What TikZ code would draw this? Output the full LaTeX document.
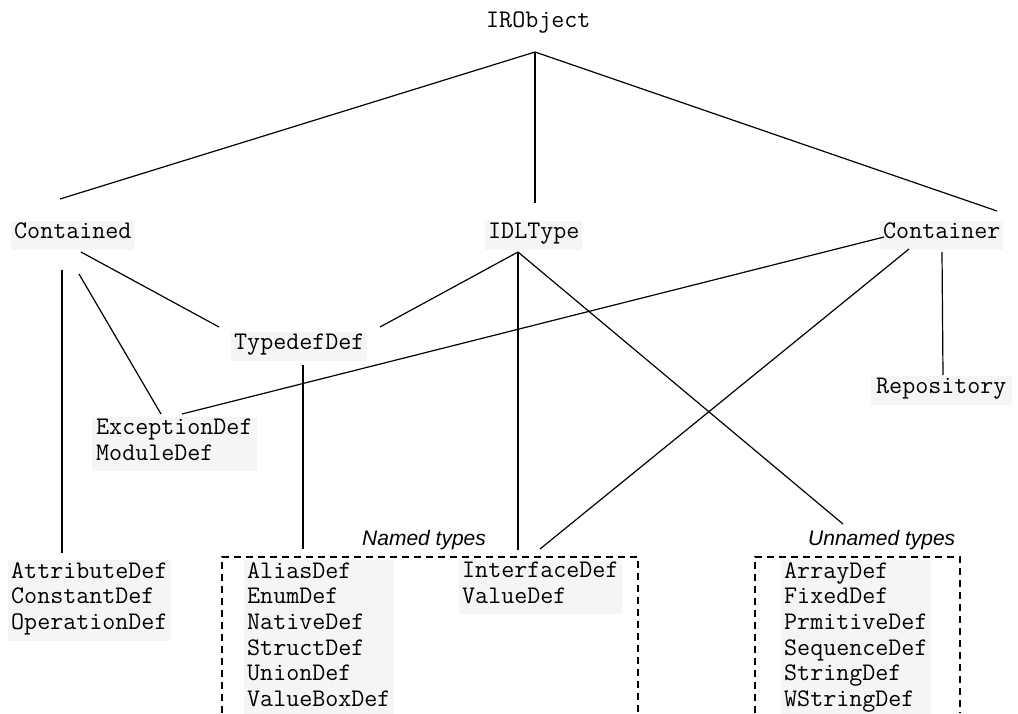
\documentclass[tikz,border=0pt]{standalone}
\usepackage{fontspec}
\setmainfont{Liberation Serif}
\setsansfont{Liberation Sans}
\definecolor{bgc}{HTML}{F5F5F5}
\newcommand\clsfont{\ttfamily\fontsize{25.3}{23}\selectfont}
\newcommand\grpfont{\sffamily\itshape\fontsize{21}{25}\selectfont}
\newcommand\ms{\rule[-9pt]{0pt}{23pt}}
\begin{document}
\begin{tikzpicture}[x=1pt,y=-1pt,
  cls/.style={fill=bgc, inner xsep=3pt, inner ysep=2pt, anchor=north west, align=left, font=\clsfont},
  plain/.style={cls, fill=none},
  lbl/.style={font=\grpfont, anchor=base west, inner sep=0pt},
  thinln/.style={line width=1.2pt},
  thickln/.style={line width=2.2pt},
  grp/.style={line width=1.8pt, dash pattern=on 7pt off 5pt}
]
\useasboundingbox (0,0) rectangle (1018,713);

% nodes
\node[plain] (iro) at (483,10) {\ms IRObject};
\node[cls] (contained) at (11,221) {\ms Contained};
\node[cls] (idl) at (485,221) {\ms IDLType};
\node[cls] (container) at (880,221) {\ms Container};
\node[cls] (typedef) at (231,332) {\ms TypedefDef};
\node[cls, inner xsep=5pt] (repo) at (871,376) {\ms Repository};
\node[cls, inner xsep=4pt] (exc) at (92,417) {\ms ExceptionDef\\\ms ModuleDef};
\node[cls] (attr) at (8,560) {\ms AttributeDef\\\ms ConstantDef\\\ms OperationDef};
\node[cls] (alias) at (244,560) {\ms AliasDef\\\ms EnumDef\\\ms NativeDef\\\ms StructDef\\\ms UnionDef\\\ms ValueBoxDef};
\node[cls] (iface) at (459,560) {\ms InterfaceDef\\\ms ValueDef};
\node[cls] (array) at (781,560) {\ms ArrayDef\\\ms FixedDef\\\ms PrmitiveDef\\\ms SequenceDef\\\ms StringDef\\\ms WStringDef};

\node[lbl] (named) at (362,545) {Named types};
\node[lbl] (unnamed) at (808,545) {Unnamed types};

% group frames
\draw[grp] (222,713) -- (222,557) -- (638,557) -- (638,713);
\draw[grp] (755,713) -- (755,557) -- (960,557) -- (960,713);

% connection points
\coordinate (apex) at (535,52);
\coordinate (contTop) at (60,199);
\coordinate (idlTop) at (535,203);
\coordinate (contrTop) at (997,211);
\coordinate (contA) at (81,252);
\coordinate (tdL) at (219,327);
\coordinate (contB) at (79,274);
\coordinate (exA) at (161,414);
\coordinate (idlBot) at (518,252);
\coordinate (tdR) at (380,327);
\coordinate (idlDown) at (518,550);
\coordinate (unnTop) at (843,524);
\coordinate (contrA) at (884,237);
\coordinate (exB) at (182,414);
\coordinate (contrB) at (909,249);
\coordinate (ifTop) at (540,549);
\coordinate (contrC) at (942,252);
\coordinate (repTop) at (943,375);
\coordinate (contV1) at (62,270);
\coordinate (attrTop) at (62,553);
\coordinate (tdV1) at (303,365);
\coordinate (aliasTop) at (303,549);

% connectors
\draw[thinln] (apex) -- (contTop);
\draw[thickln] (apex) -- (idlTop);
\draw[thinln] (apex) -- (contrTop);
\draw[thinln] (contA) -- (tdL);
\draw[thinln] (contB) -- (exA);
\draw[thickln] (contV1) -- (attrTop);
\draw[thinln] (idlBot) -- (tdR);
\draw[thickln] (idlBot) -- (idlDown);
\draw[thinln] (idlBot) -- (unnTop);
\draw[thinln] (contrA) -- (exB);
\draw[thinln] (contrB) -- (ifTop);
\draw[thinln] (contrC) -- (repTop);
\draw[thickln] (tdV1) -- (aliasTop);
\end{tikzpicture}
\end{document}
